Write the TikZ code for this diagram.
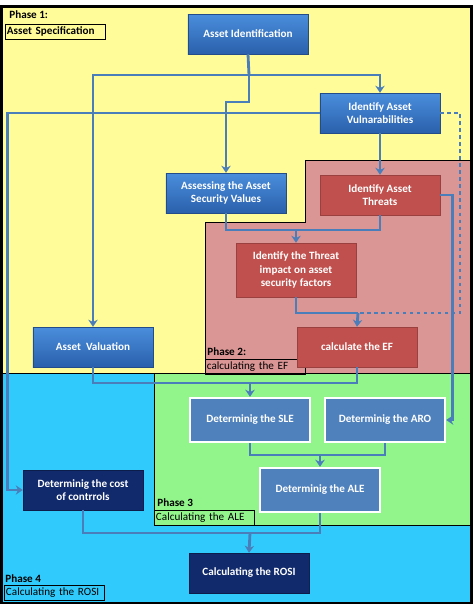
\documentclass[tikz,border=0pt]{standalone}
\usepackage{fontspec}
\setmainfont{Carlito}
\usetikzlibrary{arrows.meta,shadows}

\definecolor{phaseyellow}{HTML}{FFFC99}
\definecolor{phasered}{HTML}{DA9694}
\definecolor{phasegreen}{HTML}{92F58C}
\definecolor{phaseblue}{HTML}{30CBFC}
\definecolor{linkblue}{HTML}{4A7EBB}
\definecolor{boxtop}{HTML}{4A8EDC}
\definecolor{boxbottom}{HTML}{2A60AC}
\definecolor{boxred}{HTML}{C0504D}
\definecolor{boxmid}{HTML}{4F81BD}
\definecolor{boxnavy}{HTML}{112A6C}

\tikzset{
  box/.style={minimum width=3.6cm, minimum height=1.2cm, align=center, inner sep=2pt,
    text=white, font=\fontsize{9.5}{11.5}\selectfont\bfseries},
  bluebox/.style={box, top color=boxtop, bottom color=boxbottom, draw=boxbottom!80!black,
    drop shadow={shadow xshift=1pt, shadow yshift=-1pt, opacity=0.35}},
  redbox/.style={box, fill=boxred, draw=boxred!80!black},
  midbox/.style={box, fill=boxmid, draw=white, line width=2pt, minimum height=1.32cm,
    drop shadow={shadow xshift=1pt, shadow yshift=-1pt, opacity=0.3}},
  navybox/.style={box, fill=boxnavy, draw=boxnavy!70!black,
    drop shadow={shadow xshift=1pt, shadow yshift=-1pt, opacity=0.35}},
  link/.style={draw=linkblue, line width=2.4pt},
  linkarrow/.style={link, -{Stealth[length=6pt, width=8pt]}},
  dashlink/.style={draw=linkblue, line width=1.4pt, dashed},
  phasetitle/.style={anchor=west, inner sep=1pt, font=\fontsize{9.5}{10}\selectfont\bfseries},
  phasename/.style={anchor=north west, draw=black, inner sep=1.5pt, minimum height=0.45cm,
    text width=2.9cm, align=left, font=\fontsize{9.5}{10}\selectfont}
}

\begin{document}
\begin{tikzpicture}[x=0.03cm, y=-0.03cm]
\useasboundingbox (0,0) rectangle (474,607);
\fill[white] (0,0) rectangle (474,607);

% phase areas
\fill[phaseyellow] (3,8) rectangle (470,373);
\filldraw[fill=phasered, draw=black, line width=0.6pt] (305,160) -- (470,160) -- (470,373) -- (205,373) -- (205,222) -- (305,222) -- cycle;
\fill[phaseblue] (3,373) rectangle (470,602);
\filldraw[fill=phasegreen, draw=black, line width=0.6pt] (154,373) rectangle (470,525);
\draw[black, line width=0.6pt] (3,373) -- (470,373);
\draw[black, line width=2pt] (1.5,6.5) rectangle (471.5,603);

% phase labels
\node[phasetitle] at (8,15) {Phase 1:};
\node[phasename, font=\fontsize{9.5}{10}\selectfont\bfseries] at (5,24) {Asset Specification};
\node[phasetitle] at (206,352) {Phase 2:};
\node[phasename] at (205,358.5) {calculating the EF};
\node[phasetitle] at (156,503) {Phase 3};
\node[phasename] at (154,510) {Calculating the ALE};
\node[phasetitle] at (4,579) {Phase 4};
\node[phasename] at (4,585) {Calculating the ROSI};

% steps
\node[bluebox] (ident) at (248,34) {Asset Identification};
\node[bluebox] (vuln) at (380,113) {Identify Asset\\Vulnarabilities};
\node[bluebox] (assess) at (226,193) {Assessing the Asset\\Security Values};
\node[redbox] (threats) at (380,195) {Identify Asset\\Threats};
\node[redbox, minimum height=1.62cm] (impact) at (296,270) {Identify the Threat\\impact on asset\\security factors};
\node[redbox] (ef) at (357,347) {calculate the EF};
\node[bluebox] (val) at (93,347) {Asset\ \ Valuation};
\node[midbox] (sle) at (250,420) {Determinig the SLE};
\node[midbox] (aro) at (385,420) {Determinig the ARO};
\node[midbox] (ale) at (320,490) {Determinig the ALE};
\node[navybox] (cost) at (83,490) {Determinig the cost\\of contrrols};
\node[navybox] (rosi) at (249,573) {Calculating the ROSI};

% junctions
\coordinate (split) at (249,75);
\coordinate (m1) at (296,230);
\coordinate (m2) at (358,313);
\coordinate (m3) at (250,383);
\coordinate (m4) at (320,455);
\coordinate (m5) at (250,533);

% connectors
\draw[link] (ident.south) -- (split);
\draw[linkarrow] (split) -| (vuln.north);
\draw[linkarrow] (split) -| (val.north);
\draw[linkarrow] (split) -- ++(0,27) -| (assess.north);
\draw[linkarrow] (vuln.west) -- ++(-312,0) |- (cost.west);
\draw[linkarrow] (vuln.south) -- (threats.north);
\draw[link] (assess.south) |- (m1);
\draw[link] (threats.south) |- (m1);
\draw[linkarrow] (m1) -- (impact.north);
\draw[link] (impact.south) |- (m2);
\draw[dashlink] (vuln.east) -- ++(20,0) |- (m2);
\draw[linkarrow] (m2) -- (ef.north);
\draw[linkarrow] (threats.east) -- ++(12,0) |- (aro.east);
\draw[link] (val.south) |- (m3);
\draw[link] (ef.south) |- (m3);
\draw[linkarrow] (m3) -- (sle.north);
\draw[link] (sle.south) |- (m4);
\draw[link] (aro.south) |- (m4);
\draw[linkarrow] (m4) -- (ale.north);
\draw[link] (cost.south) |- (m5);
\draw[link] (ale.south) |- (m5);
\draw[linkarrow] (m5) -- (rosi.north);
\end{tikzpicture}
\end{document}
